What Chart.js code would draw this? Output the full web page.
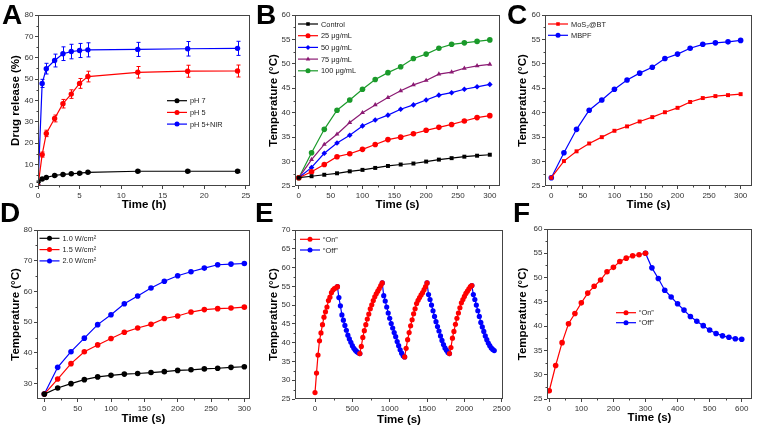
<!DOCTYPE html>
<html>
<head>
<meta charset="utf-8">
<script src="https://cdn.jsdelivr.net/npm/chart.js@4.4.1/dist/chart.umd.min.js"></script>
<style>
  html, body { margin: 0; padding: 0; background: #fff; }
  #wrap { position: relative; width: 760px; height: 428px; overflow: hidden; }
  #wrap canvas { position: absolute; left: 0; top: 0; }
  .tag { position: absolute; font: bold 28px "Liberation Sans", Arial, sans-serif; line-height: 28px; color: #000; }
</style>
</head>
<body>
<div id="wrap">
  <canvas id="cA" width="760" height="428"></canvas>
  <canvas id="cB" width="760" height="428"></canvas>
  <canvas id="cC" width="760" height="428"></canvas>
  <canvas id="cD" width="760" height="428"></canvas>
  <canvas id="cE" width="760" height="428"></canvas>
  <canvas id="cF" width="760" height="428"></canvas>
  <div class="tag" style="left:2px;top:1px">A</div>
  <div class="tag" style="left:256px;top:1px">B</div>
  <div class="tag" style="left:507px;top:1px">C</div>
  <div class="tag" style="left:0px;top:199px">D</div>
  <div class="tag" style="left:255px;top:199px">E</div>
  <div class="tag" style="left:513px;top:199px">F</div>
</div>
<script>
// ---- data ----
// A: drug release
const TIME_A = [0, 0.5, 1, 2, 3, 4, 5, 6, 12, 18, 24];
const PH7 = [2.0, 3.3, 4.0, 4.9, 5.4, 5.7, 6.0, 6.4, 6.9, 6.9, 6.9];
const PH7_ERR = [0.3, 0.4, 0.4, 0.4, 0.4, 0.4, 0.4, 0.4, 0.5, 0.5, 0.5];
const PH5 = [0, 14.7, 24.6, 31.6, 38.5, 43.0, 48.0, 51.2, 53.2, 53.7, 53.8];
const PH5_ERR = [0, 1.2, 1.5, 1.6, 2.0, 2.0, 2.3, 2.5, 2.7, 2.8, 2.8];
const PH5_NIR = [0, 48.0, 54.9, 58.7, 61.9, 62.9, 63.4, 63.7, 63.9, 64.2, 64.4];
const PH5_NIR_ERR = [0, 1.9, 2.5, 3.0, 3.2, 3.4, 3.3, 3.3, 3.3, 3.4, 3.3];

// B, C, D: heating curves
const TIME_S = [0, 20, 40, 60, 80, 100, 120, 140, 160, 180, 200, 220, 240, 260, 280, 300];
const CONTROL = [26.7, 27.0, 27.3, 27.6, 28.0, 28.3, 28.7, 29.1, 29.4, 29.6, 30.0, 30.4, 30.7, 31.0, 31.2, 31.4];
const C25 = [26.7, 27.9, 29.4, 31.0, 31.6, 32.5, 33.5, 34.5, 35.0, 35.7, 36.4, 37.0, 37.6, 38.3, 39.0, 39.4];
const C50 = [26.7, 28.8, 31.7, 33.8, 35.4, 37.3, 38.5, 39.5, 40.7, 41.6, 42.6, 43.6, 44.1, 44.8, 45.3, 45.8];
const C75 = [26.7, 30.4, 33.5, 35.6, 38.0, 40.0, 41.6, 43.1, 44.5, 45.7, 46.6, 47.9, 48.3, 49.1, 49.6, 49.9];
const C100 = [26.7, 31.8, 36.6, 40.5, 42.6, 44.8, 46.8, 48.2, 49.4, 51.1, 52.0, 53.2, 54.0, 54.3, 54.6, 54.9];

const MOS2_BT = [26.7, 30.1, 32.1, 33.7, 35.0, 36.3, 37.2, 38.2, 39.1, 40.1, 41.0, 42.2, 43.0, 43.4, 43.6, 43.8];
const MBPF = [26.7, 31.8, 36.6, 40.5, 42.6, 44.8, 46.7, 48.1, 49.3, 51.1, 52.0, 53.2, 54.0, 54.3, 54.5, 54.8];

const P10 = [26.6, 28.6, 30.0, 31.3, 32.2, 32.7, 33.1, 33.3, 33.6, 33.9, 34.3, 34.5, 34.8, 35.0, 35.3, 35.5];
const P15 = [26.6, 31.5, 36.5, 40.4, 42.6, 44.7, 46.7, 48.1, 49.3, 51.2, 52.0, 53.3, 54.1, 54.4, 54.6, 54.9];
const P20 = [26.6, 35.3, 40.4, 44.8, 49.2, 52.4, 56.0, 58.5, 61.1, 63.3, 65.1, 66.4, 67.6, 68.7, 68.9, 69.1];

// E: on/off cycles (each half cycle sampled on TIME_S, shifted by its start)
const ON_STARTS = [0, 600, 1200, 1800];
const OFF_STARTS = [300, 900, 1500, 2100];
const ON_CYCLES = [
  [26.7, 31.9, 36.7, 40.5, 42.6, 44.8, 46.8, 48.2, 49.5, 51.2, 52.1, 53.3, 54.0, 54.4, 54.6, 54.9],
  [37.1, 39.0, 41.4, 43.2, 44.8, 46.3, 47.6, 49.0, 50.1, 51.2, 52.2, 53.0, 53.7, 54.4, 55.2, 55.9],
  [36.2, 38.5, 40.8, 42.7, 44.5, 46.1, 47.7, 49.0, 50.4, 51.3, 52.0, 52.7, 53.3, 54.1, 54.9, 55.9],
  [37.1, 38.7, 41.2, 43.0, 44.9, 46.5, 47.9, 49.3, 50.6, 51.5, 52.3, 53.1, 53.7, 54.3, 54.9, 55.2],
];
const OFF_CYCLES = [
  [54.9, 52.0, 49.8, 47.4, 46.0, 44.6, 43.3, 42.0, 41.0, 40.1, 39.2, 38.5, 38.0, 37.6, 37.3, 37.1],
  [55.9, 52.5, 51.1, 49.5, 47.9, 46.5, 45.1, 43.9, 42.7, 41.6, 40.3, 39.2, 38.1, 37.2, 36.5, 36.2],
  [55.9, 52.8, 51.5, 50.0, 48.5, 47.0, 45.6, 44.3, 43.1, 41.8, 40.6, 39.5, 38.6, 38.0, 37.4, 37.1],
  [55.2, 52.8, 51.5, 50.0, 48.5, 47.0, 45.4, 44.2, 43.0, 41.8, 40.8, 39.9, 39.2, 38.6, 38.2, 37.9],
];

// F: single cycle
const TIME_F_OFF = [300, 320, 340, 360, 380, 400, 420, 440, 460, 480, 500, 520, 540, 560, 580, 600];
const F_ON = [26.7, 31.9, 36.6, 40.5, 42.6, 44.8, 46.8, 48.2, 49.5, 51.2, 52.1, 53.3, 54.0, 54.5, 54.7, 55.0];
const F_OFF = [55.0, 52.0, 49.8, 47.4, 46.0, 44.6, 43.3, 42.0, 41.0, 40.1, 39.2, 38.5, 38.0, 37.7, 37.4, 37.3];

// tick labels
const TICKS_X_A = [0, 5, 10, 15, 20, 25];
const TICKS_Y_A = [0, 10, 20, 30, 40, 50, 60, 70, 80];
const TICKS_X_300 = [0, 50, 100, 150, 200, 250, 300];
const TICKS_Y_25_60 = [25, 30, 35, 40, 45, 50, 55, 60];
const TICKS_Y_D = [30, 40, 50, 60, 70, 80];
const TICKS_X_E = [0, 500, 1000, 1500, 2000, 2500];
const TICKS_Y_E = [25, 30, 35, 40, 45, 50, 55, 60, 65, 70];
const TICKS_X_F = [0, 100, 200, 300, 400, 500, 600];

// ---- drawing ----
const FONT = '"Liberation Sans", Arial, sans-serif';
const W = 760, H = 428;
const AXIS = '#444';
const TITLE_SIZE = 11.5;

const pts = (xs, ys) => ys.map((y, i) => ({ x: xs[i], y }));

function cycles(starts, rows) {
  const out = [];
  rows.forEach((row, k) => {
    if (k > 0) out.push({ x: starts[k] - 1, y: null });
    row.forEach((y, i) => out.push({ x: starts[k] + TIME_S[i], y }));
  });
  return out;
}

function marker(ctx, style, x, y, r, color) {
  ctx.fillStyle = color;
  ctx.beginPath();
  if (style === 'rect') {
    const s = r * Math.SQRT1_2;
    ctx.rect(x - s, y - s, 2 * s, 2 * s);
  } else if (style === 'rectRot') {
    ctx.moveTo(x, y - r); ctx.lineTo(x + r, y); ctx.lineTo(x, y + r); ctx.lineTo(x - r, y); ctx.closePath();
  } else if (style === 'triangle') {
    ctx.moveTo(x, y - r); ctx.lineTo(x + r * 0.9, y + r * 0.6); ctx.lineTo(x - r * 0.9, y + r * 0.6); ctx.closePath();
  } else {
    ctx.arc(x, y, r, 0, Math.PI * 2);
  }
  ctx.fill();
}

const framePlugin = {
  id: 'frame',
  afterDatasetsDraw(chart) {
    const { ctx, chartArea: a, scales } = chart;
    ctx.save();
    ctx.strokeStyle = AXIS;
    ctx.lineWidth = 1;
    const L = Math.round(a.left) + 0.5, R = Math.round(a.right) - 0.5;
    const T = Math.round(a.top) + 0.5, B = Math.round(a.bottom) - 0.5;
    ctx.strokeRect(L, T, R - L, B - T);
    ctx.beginPath();
    const tx = scales.x.ticks.map(t => t.value);
    for (let i = 0; i < tx.length - 1; i++) {
      const p = Math.round(scales.x.getPixelForValue((tx[i] + tx[i + 1]) / 2)) + 0.5;
      ctx.moveTo(p, B); ctx.lineTo(p, B + 2);
    }
    const ty = scales.y.ticks.map(t => t.value);
    for (let i = 0; i < ty.length - 1; i++) {
      const p = Math.round(scales.y.getPixelForValue((ty[i] + ty[i + 1]) / 2)) + 0.5;
      ctx.moveTo(L, p); ctx.lineTo(L - 2, p);
    }
    ctx.stroke();
    ctx.restore();
  }
};

const errorPlugin = {
  id: 'errbars',
  beforeDatasetsDraw(chart) {
    const { ctx, scales } = chart;
    ctx.save();
    ctx.lineWidth = 1;
    chart.data.datasets.forEach(ds => {
      if (!ds.errors) return;
      ctx.strokeStyle = ds.borderColor;
      ctx.beginPath();
      ds.data.forEach((p, i) => {
        const e = ds.errors[i];
        if (!e) return;
        const x = Math.round(scales.x.getPixelForValue(p.x)) + 0.5;
        const y1 = scales.y.getPixelForValue(p.y + e);
        const y2 = scales.y.getPixelForValue(p.y - e);
        ctx.moveTo(x, y1); ctx.lineTo(x, y2);
        ctx.moveTo(x - 2, y1); ctx.lineTo(x + 2, y1);
        ctx.moveTo(x - 2, y2); ctx.lineTo(x + 2, y2);
      });
      ctx.stroke();
    });
    ctx.restore();
  }
};

const legendPlugin = {
  id: 'boxLegend',
  afterDraw(chart, args, opts) {
    if (!opts || opts.x === undefined) return;
    const { ctx } = chart;
    ctx.save();
    ctx.font = '7.4px ' + FONT;
    ctx.textBaseline = 'middle';
    ctx.textAlign = 'left';
    chart.data.datasets.forEach((ds, i) => {
      const y = opts.y + i * opts.gap;
      ctx.strokeStyle = ds.borderColor;
      ctx.lineWidth = 1.2;
      ctx.beginPath();
      ctx.moveTo(opts.x, y); ctx.lineTo(opts.x + 20, y);
      ctx.stroke();
      marker(ctx, ds.pointStyle || 'circle', opts.x + 10, y, 2.5, ds.borderColor);
      ctx.fillStyle = '#222';
      ctx.fillText(ds.label, opts.x + 23, y + 0.5);
    });
    ctx.restore();
  }
};

function series(label, color, data, style, extra) {
  return Object.assign({
    label, data,
    borderColor: color, backgroundColor: color,
    pointBackgroundColor: color, pointBorderColor: color,
    pointStyle: style || 'circle',
  }, extra || {});
}

function panel(id, box, cfg) {
  const off = TITLE_SIZE * 1.2 / 2;
  const padL = box.yTitleX - off;
  const padB = H - box.xTitleY - off;
  const axis = (a, fit) => ({
    type: 'linear',
    min: a.min, max: a.max,
    afterBuildTicks: s => { s.ticks = a.ticks.map(v => ({ value: v })); },
    afterFit: fit,
    grid: { display: true, drawOnChartArea: false, drawTicks: true, tickLength: 3, color: AXIS },
    border: { display: false },
    ticks: { font: { family: FONT, size: 8 }, color: '#333', padding: 1.5, maxRotation: 0, autoSkip: false, callback: v => String(v) },
    title: { display: true, text: a.title, color: '#000', padding: 0, font: { family: FONT, size: TITLE_SIZE, weight: 'bold' } },
  });
  return new Chart(document.getElementById(id), {
    type: 'line',
    data: { datasets: cfg.datasets },
    options: {
      responsive: false,
      animation: false,
      events: [],
      layout: { padding: { left: padL, right: W - box.r, top: box.t, bottom: padB } },
      elements: {
        line: { borderWidth: 1.2, tension: 0 },
        point: { radius: cfg.radius || 2.8, borderWidth: 0 },
      },
      plugins: { legend: { display: false }, tooltip: { enabled: false }, boxLegend: cfg.legend },
      scales: {
        x: axis(cfg.x, s => { s.height = H - padB - box.b; }),
        y: axis(cfg.y, s => { s.width = box.l - padL; }),
      },
    },
    plugins: [errorPlugin, framePlugin, legendPlugin],
  });
}

const TEMP = 'Temperature (°C)';
const TIME = 'Time (s)';

panel('cA', { l: 38, r: 250, t: 15, b: 186, yTitleX: 15.5, xTitleY: 205 }, {
  datasets: [
    series('pH 7', '#000000', pts(TIME_A, PH7), 'circle', { errors: PH7_ERR }),
    series('pH 5', '#ff0000', pts(TIME_A, PH5), 'circle', { errors: PH5_ERR }),
    series('pH 5+NIR', '#0000ff', pts(TIME_A, PH5_NIR), 'circle', { errors: PH5_NIR_ERR }),
  ],
  x: { min: 0, max: 25.5, ticks: TICKS_X_A, title: 'Time (h)' },
  y: { min: 0, max: 80, ticks: TICKS_Y_A, title: 'Drug release (%)' },
  legend: { x: 167, y: 100.7, gap: 11.7 },
  radius: 2.7,
});

panel('cB', { l: 295, r: 500, t: 15, b: 186, yTitleX: 274, xTitleY: 205 }, {
  datasets: [
    series('Control', '#000000', pts(TIME_S, CONTROL), 'rect'),
    series('25 μg/mL', '#ff0000', pts(TIME_S, C25), 'circle'),
    series('50 μg/mL', '#0000ff', pts(TIME_S, C50), 'rectRot'),
    series('75 μg/mL', '#8b1a73', pts(TIME_S, C75), 'triangle'),
    series('100 μg/mL', '#1a9a2a', pts(TIME_S, C100), 'circle'),
  ],
  x: { min: -6, max: 316, ticks: TICKS_X_300, title: TIME },
  y: { min: 25, max: 60, ticks: TICKS_Y_25_60, title: TEMP },
  legend: { x: 298, y: 24, gap: 11.7 },
});

panel('cC', { l: 545, r: 752, t: 15, b: 186, yTitleX: 523, xTitleY: 205 }, {
  datasets: [
    series('MoS₂@BT', '#ff0000', pts(TIME_S, MOS2_BT), 'rect'),
    series('MBPF', '#0000ff', pts(TIME_S, MBPF), 'circle'),
  ],
  x: { min: -10, max: 318, ticks: TICKS_X_300, title: TIME },
  y: { min: 25, max: 60, ticks: TICKS_Y_25_60, title: TEMP },
  legend: { x: 548, y: 24, gap: 11.3 },
});

panel('cD', { l: 37, r: 250, t: 230, b: 399, yTitleX: 15.5, xTitleY: 419 }, {
  datasets: [
    series('1.0 W/cm²', '#000000', pts(TIME_S, P10)),
    series('1.5 W/cm²', '#ff0000', pts(TIME_S, P15)),
    series('2.0 W/cm²', '#0000ff', pts(TIME_S, P20)),
  ],
  x: { min: -11, max: 308.5, ticks: TICKS_X_300, title: TIME },
  y: { min: 25, max: 80, ticks: TICKS_Y_D, title: TEMP },
  legend: { x: 39.5, y: 238.3, gap: 11.3 },
});

panel('cE', { l: 295, r: 503, t: 230, b: 399, yTitleX: 274, xTitleY: 420 }, {
  datasets: [
    series('“On”', '#ff0000', cycles(ON_STARTS, ON_CYCLES)),
    series('“Off”', '#0000ff', cycles(OFF_STARTS, OFF_CYCLES)),
  ],
  x: { min: -268, max: 2517, ticks: TICKS_X_E, title: TIME },
  y: { min: 25, max: 70, ticks: TICKS_Y_E, title: TEMP },
  legend: { x: 300, y: 239.3, gap: 10.7 },
  radius: 2.6,
});

panel('cF', { l: 547, r: 752, t: 229, b: 399, yTitleX: 522.5, xTitleY: 417.5 }, {
  datasets: [
    series('“On”', '#ff0000', pts(TIME_S, F_ON)),
    series('“Off”', '#0000ff', pts(TIME_F_OFF, F_OFF)),
  ],
  x: { min: -7, max: 632, ticks: TICKS_X_F, title: TIME },
  y: { min: 25, max: 60, ticks: TICKS_Y_25_60, title: TEMP },
  legend: { x: 616, y: 312.7, gap: 10 },
});
</script>
</body>
</html>
